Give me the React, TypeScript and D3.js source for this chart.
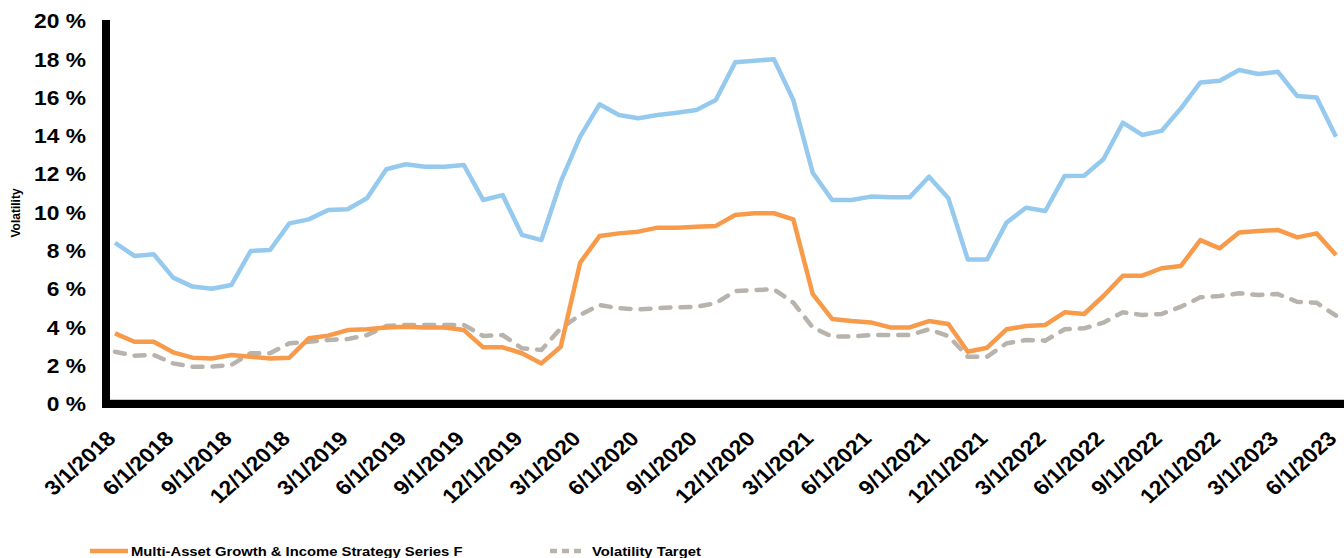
import React, { useRef, useEffect } from 'react';
import * as d3 from 'd3';

// monthly observations, 3/1/2018 .. 6/1/2023
const months = d3.timeMonth.range(new Date(2018, 2, 1), new Date(2023, 6, 1));

const tickLabels = [
  '3/1/2018', '6/1/2018', '9/1/2018', '12/1/2018',
  '3/1/2019', '6/1/2019', '9/1/2019', '12/1/2019',
  '3/1/2020', '6/1/2020', '9/1/2020', '12/1/2020',
  '3/1/2021', '6/1/2021', '9/1/2021', '12/1/2021',
  '3/1/2022', '6/1/2022', '9/1/2022', '12/1/2022',
  '3/1/2023', '6/1/2023',
];

const yTicks = [0, 2, 4, 6, 8, 10, 12, 14, 16, 18, 20];

const equityVol = [
  8.42, 7.73, 7.82, 6.6, 6.13, 6.02, 6.21, 7.99, 8.04, 9.43, 9.64, 10.13, 10.17, 10.74, 12.26, 12.52, 12.39,
  12.39, 12.48, 10.65, 10.91, 8.83, 8.56, 11.61, 13.96, 15.65, 15.09, 14.92, 15.09, 15.21, 15.35, 15.87, 17.84,
  17.93, 18.0, 15.87, 12.08, 10.65, 10.65, 10.83, 10.79, 10.79, 11.87, 10.74, 7.55, 7.55, 9.47, 10.25, 10.08, 11.91,
  11.92, 12.78, 14.69, 14.05, 14.26, 15.44, 16.79, 16.88, 17.44, 17.23, 17.35, 16.08, 16.01, 13.96,
];

const strategyVol = [
  3.69, 3.25, 3.25, 2.7, 2.42, 2.38, 2.56, 2.47, 2.38, 2.42, 3.43, 3.57, 3.86, 3.9, 4.0, 4.04, 4.0,
  4.0, 3.86, 2.96, 2.96, 2.65, 2.12, 2.99, 7.38, 8.77, 8.91, 9.0, 9.21, 9.21, 9.26, 9.3, 9.87,
  9.96, 9.96, 9.64, 5.74, 4.44, 4.33, 4.26, 4.0, 4.0, 4.33, 4.18, 2.73, 2.94, 3.9, 4.07, 4.13, 4.79,
  4.7, 5.64, 6.7, 6.7, 7.09, 7.21, 8.56, 8.13, 8.96, 9.03, 9.09, 8.7, 8.91, 7.78,
];

const targetVol = [
  2.73, 2.52, 2.56, 2.12, 1.95, 1.95, 2.04, 2.65, 2.65, 3.17, 3.25, 3.34, 3.39, 3.6, 4.07, 4.13, 4.13,
  4.13, 4.13, 3.55, 3.6, 2.91, 2.82, 3.95, 4.65, 5.17, 5.0, 4.94, 5.0, 5.05, 5.08, 5.26, 5.9,
  5.95, 5.99, 5.29, 4.0, 3.52, 3.52, 3.6, 3.6, 3.6, 3.9, 3.55, 2.47, 2.47, 3.17, 3.34, 3.31, 3.9,
  3.95, 4.25, 4.79, 4.65, 4.7, 5.08, 5.57, 5.64, 5.78, 5.69, 5.74, 5.34, 5.29, 4.61,
];

const legendItems = [
  { label: 'Multi-Asset Growth & Income Strategy Series F', color: '#F79B4B', dash: false },
  { label: 'Volatility Target', color: '#B9B3AD', dash: true },
];

const FONT = '"Liberation Sans", Arial, sans-serif';

const App: React.FC = () => {
  const svgRef = useRef<SVGSVGElement>(null);
  const width = 1344;
  const height = 558;

  useEffect(() => {
    if (!svgRef.current) return;
    const svg = d3.select(svgRef.current);
    svg.selectAll('*').remove();

    const xScale = d3.scaleLinear().domain([0, months.length - 1]).range([115, 1336]);
    const yScale = d3.scaleLinear().domain([0, 20]).range([404, 21]);

    const line = d3
      .line<number>()
      .x((_, i) => xScale(i))
      .y((d) => yScale(d));

    // y tick labels (glyphs a bit wide in the original)
    svg
      .append('g')
      .selectAll('text')
      .data(yTicks)
      .enter()
      .append('text')
      .attr('transform', (d) => `translate(86,${yScale(d)}) scale(1.14,1)`)
      .attr('dy', '0.36em')
      .attr('text-anchor', 'end')
      .style('font-family', FONT)
      .style('font-weight', 'bold')
      .style('font-size', '20px')
      .text((d) => `${d} %`);

    // y axis title
    svg
      .append('text')
      .attr('transform', 'translate(20,213) rotate(-90)')
      .attr('text-anchor', 'middle')
      .style('font-family', FONT)
      .style('font-weight', 'bold')
      .style('font-size', '12px')
      .text('Volatility');

    // x tick labels, every 3 months
    svg
      .append('g')
      .selectAll('text')
      .data(tickLabels)
      .enter()
      .append('text')
      .attr('transform', (_, i) => `translate(${xScale(i * 3) + 2},440) scale(1.12,1) rotate(-45)`)
      .attr('text-anchor', 'end')
      .style('font-family', FONT)
      .style('font-weight', 'bold')
      .style('font-size', '20.5px')
      .text((d) => d);

    const plot = svg.append('g');

    plot
      .append('path')
      .datum(targetVol)
      .attr('d', line)
      .attr('fill', 'none')
      .attr('stroke', '#B9B3AD')
      .attr('stroke-width', 4.5)
      .attr('stroke-linecap', 'round')
      .attr('stroke-dasharray', '10,10');

    plot
      .append('path')
      .datum(strategyVol)
      .attr('d', line)
      .attr('fill', 'none')
      .attr('stroke', '#F79B4B')
      .attr('stroke-width', 4.5)
      .attr('stroke-linejoin', 'round');

    plot
      .append('path')
      .datum(equityVol)
      .attr('d', line)
      .attr('fill', 'none')
      .attr('stroke', '#95CAEE')
      .attr('stroke-width', 4.5)
      .attr('stroke-linejoin', 'round');

    // axes: thick black lines
    svg
      .append('line')
      .attr('x1', 1344)
      .attr('x2', 110)
      .attr('y1', 399.5)
      .attr('y2', 399.5)
      .attr('stroke', '#c8c8c8')
      .attr('stroke-width', 1);

    svg
      .append('line')
      .attr('x1', 102)
      .attr('x2', 1344)
      .attr('y1', yScale(0))
      .attr('y2', yScale(0))
      .attr('stroke', '#000')
      .attr('stroke-width', 8);

    svg
      .append('line')
      .attr('x1', 106)
      .attr('x2', 106)
      .attr('y1', 20)
      .attr('y2', yScale(0) + 4)
      .attr('stroke', '#000')
      .attr('stroke-width', 8);

    // legend
    const legend = svg.append('g');
    const legendX = [90, 548];
    legendItems.forEach((item, i) => {
      const g = legend.append('g').attr('transform', `translate(${legendX[i]},551)`);
      g.append('line')
        .attr('x1', item.dash ? 2 : 0)
        .attr('x2', 38)
        .attr('y1', 0)
        .attr('y2', 0)
        .attr('stroke', item.color)
        .attr('stroke-width', 4.5)
        .attr('stroke-dasharray', item.dash ? '7,5' : null);
      g.append('text')
        .attr('transform', `translate(${item.dash ? 44 : 41},0) scale(1.14,1)`)
        .attr('dy', '0.36em')
        .style('font-family', FONT)
        .style('font-weight', 'bold')
        .style('font-size', '13px')
        .text(item.label);
    });
  }, []);

  return (
    <div style={{ position: 'absolute', left: 0, top: 0 }}>
      <svg ref={svgRef} width={width} height={height} style={{ display: 'block', background: '#fff' }} />
    </div>
  );
};

export default App;
